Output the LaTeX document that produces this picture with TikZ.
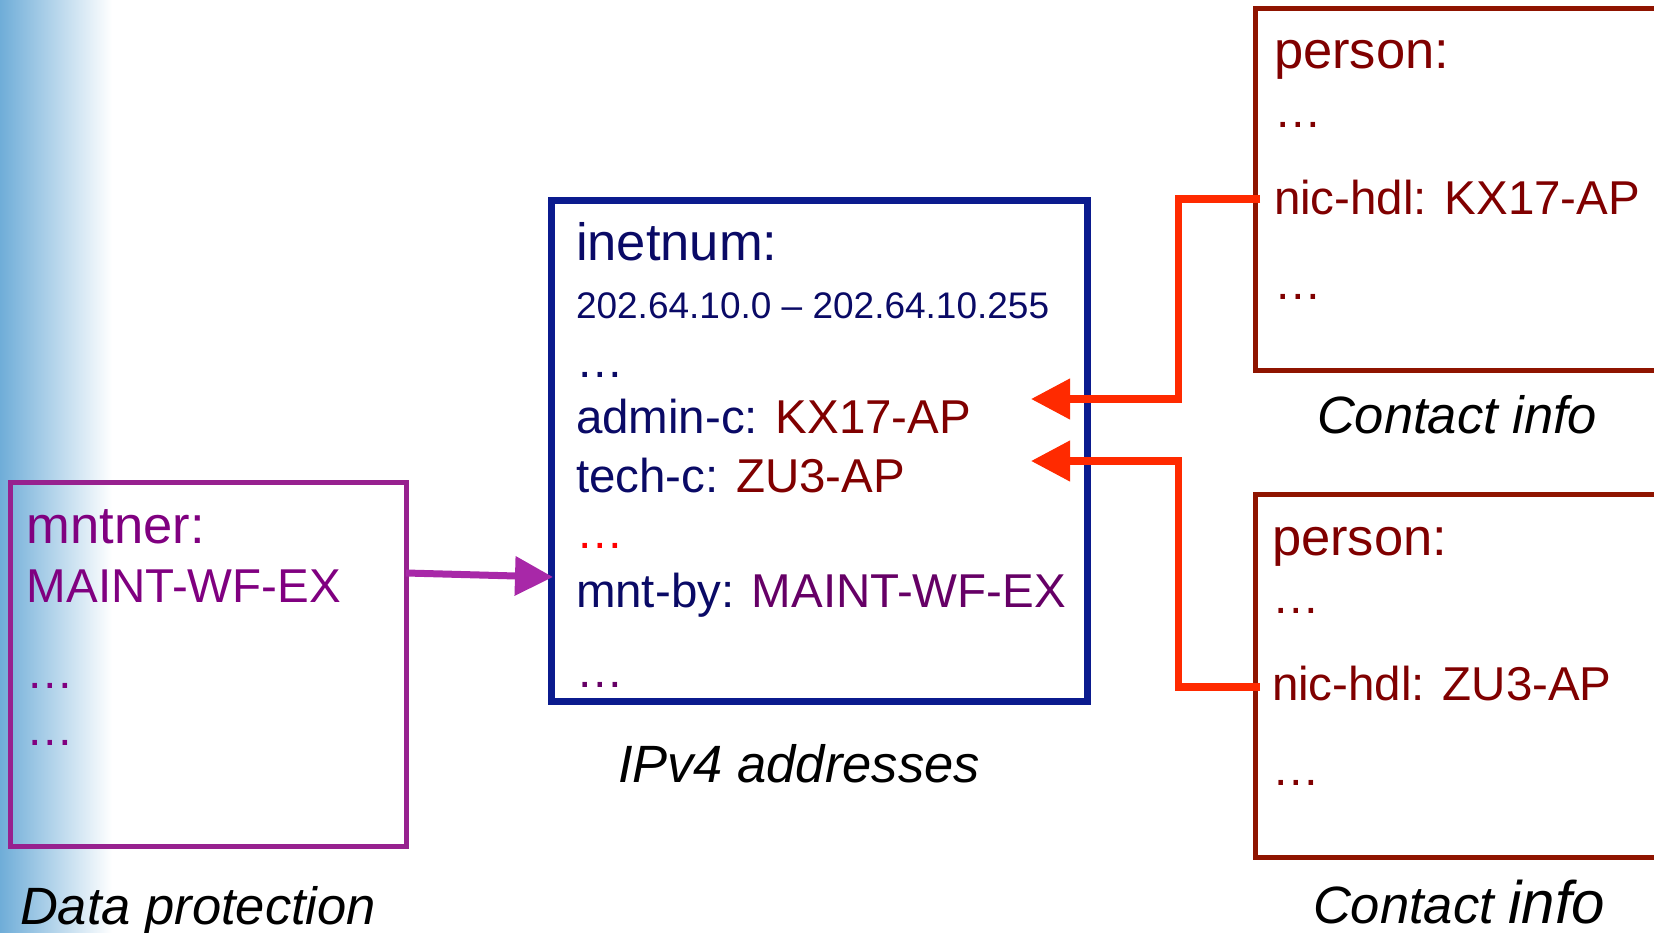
\documentclass[tikz,border=0pt]{standalone}
\usepackage{fontspec}
\setmainfont{Liberation Sans}
\usetikzlibrary{arrows.meta}

\definecolor{skyL}{HTML}{6FADD8}
\definecolor{mntBox}{HTML}{97218F}
\definecolor{mntText}{HTML}{800080}
\definecolor{mntArrow}{HTML}{A828A8}
\definecolor{mntVal}{HTML}{660066}
\definecolor{inetBox}{HTML}{0B1B8E}
\definecolor{inetText}{HTML}{0A0A66}
\definecolor{perBox}{HTML}{8F1400}
\definecolor{perText}{HTML}{800000}
\definecolor{linkRed}{HTML}{FF2A00}
\definecolor{dotRed}{HTML}{FF0000}

\newcommand{\fsz}[1]{\fontsize{#1}{#1}\selectfont}

\tikzset{
  objbox/.style={draw, anchor=north west, inner sep=0pt, outer sep=0pt},
  line/.style={anchor=base west, inner sep=0pt, outer sep=0pt, font=\fsz{47.5}},
  head/.style={line, font=\fsz{52.5}},
  caption/.style={anchor=base west, inner sep=0pt, outer sep=0pt, font=\fsz{52.5}\itshape, text=black},
  redlink/.style={draw=linkRed, line width=7.5pt, -{Triangle[length=39pt,width=39pt]}},
  purplelink/.style={draw=mntArrow, line width=7pt, -{Triangle[length=38pt,width=38pt]}},
}

\begin{document}
\begin{tikzpicture}[x=1pt,y=-1pt]
\useasboundingbox (0,0) rectangle (1654,933);
\clip (0,0) rectangle (1654,933);

% soft blue strip along the left edge
\shade[left color=skyL, right color=white] (0,0) rectangle (112,933);

% ---- maintainer object ----
\node[objbox, draw=mntBox, line width=5pt, minimum width=396pt, minimum height=364pt] (mnt) at (10,482) {};
\node[head, text=mntText] (mntA) at (27,543) {mntner:};
\node[line, text=mntText] (mntB) at (27,602) {MAINT-WF-EX};
\node[line, text=mntText] (mntC) at (27,688) {…};
\node[line, text=mntText] (mntD) at (27,745) {…};
\node[caption] (mntCap) at (20,924) {Data protection};

% ---- inetnum object ----
\node[objbox, draw=inetBox, line width=7pt, minimum width=536pt, minimum height=500pt] (inet) at (551,201) {};
\node[head, text=inetText] (inA) at (576,261) {inetnum:};
\node[line, font=\fsz{37}, text=inetText] (inB) at (576,319) {202.64.10.0 – 202.64.10.255};
\node[line, text=inetText] (inC) at (576,377) {…};
\node[line, text=inetText] (inD) at (576,433) {admin-c: \textcolor{perText}{KX17-AP}};
\node[line, text=inetText] (inE) at (576,492) {tech-c: \textcolor{perText}{ZU3-AP}};
\node[line, text=dotRed] (inF) at (576,548) {…};
\node[line, text=inetText] (inG) at (576,607) {mnt-by: \textcolor{mntVal}{MAINT-WF-EX}};
\node[line, text=mntVal] (inH) at (576,687) {…};
\node[caption] (inCap) at (618,782) {IPv4 addresses};

% ---- first person object ----
\node[objbox, draw=perBox, line width=5pt, minimum width=445pt, minimum height=362pt] (p1) at (1255,8.5) {};
\node[head, text=perText] (p1A) at (1274,69) {person:};
\node[line, text=perText] (p1B) at (1274,128) {…};
\node[line, text=perText] (p1C) at (1274,215) {nic-hdl: KX17-AP};
\node[line, text=perText] (p1D) at (1274,300) {…};
\node[caption] (p1Cap) at (1317,433) {Contact info};

% ---- second person object ----
\node[objbox, draw=perBox, line width=5pt, minimum width=445pt, minimum height=363pt] (p2) at (1255,494.5) {};
\node[head, text=perText] (p2A) at (1272,555) {person:};
\node[line, text=perText] (p2B) at (1272,613) {…};
\node[line, text=perText] (p2C) at (1272,700) {nic-hdl: ZU3-AP};
\node[line, text=perText] (p2D) at (1272,785) {…};
\node[caption] (p2Cap) at (1313,923) {Contact {\fsz{60}info}};

% ---- connector end points ----
\path (mnt.north east) ++(0,91) coordinate (mntOut);
\path (inet.north west) ++(2,376) coordinate (mntIn);
\path (p1.north west) ++(5,190.5) coordinate (nic1);
\path (p2.north west) ++(5,192.5) coordinate (nic2);
\path (inet.north west) ++(480,198) coordinate (adminIn);
\path (inet.north west) ++(480,260) coordinate (techIn);
\coordinate (bus) at (1178.5,0);

% ---- connectors ----
\draw[purplelink] (mntOut) -- (mntIn);
\draw[redlink] (nic1) -- (nic1 -| bus) |- (adminIn);
\draw[redlink] (nic2) -- (nic2 -| bus) |- (techIn);
\end{tikzpicture}
\end{document}
